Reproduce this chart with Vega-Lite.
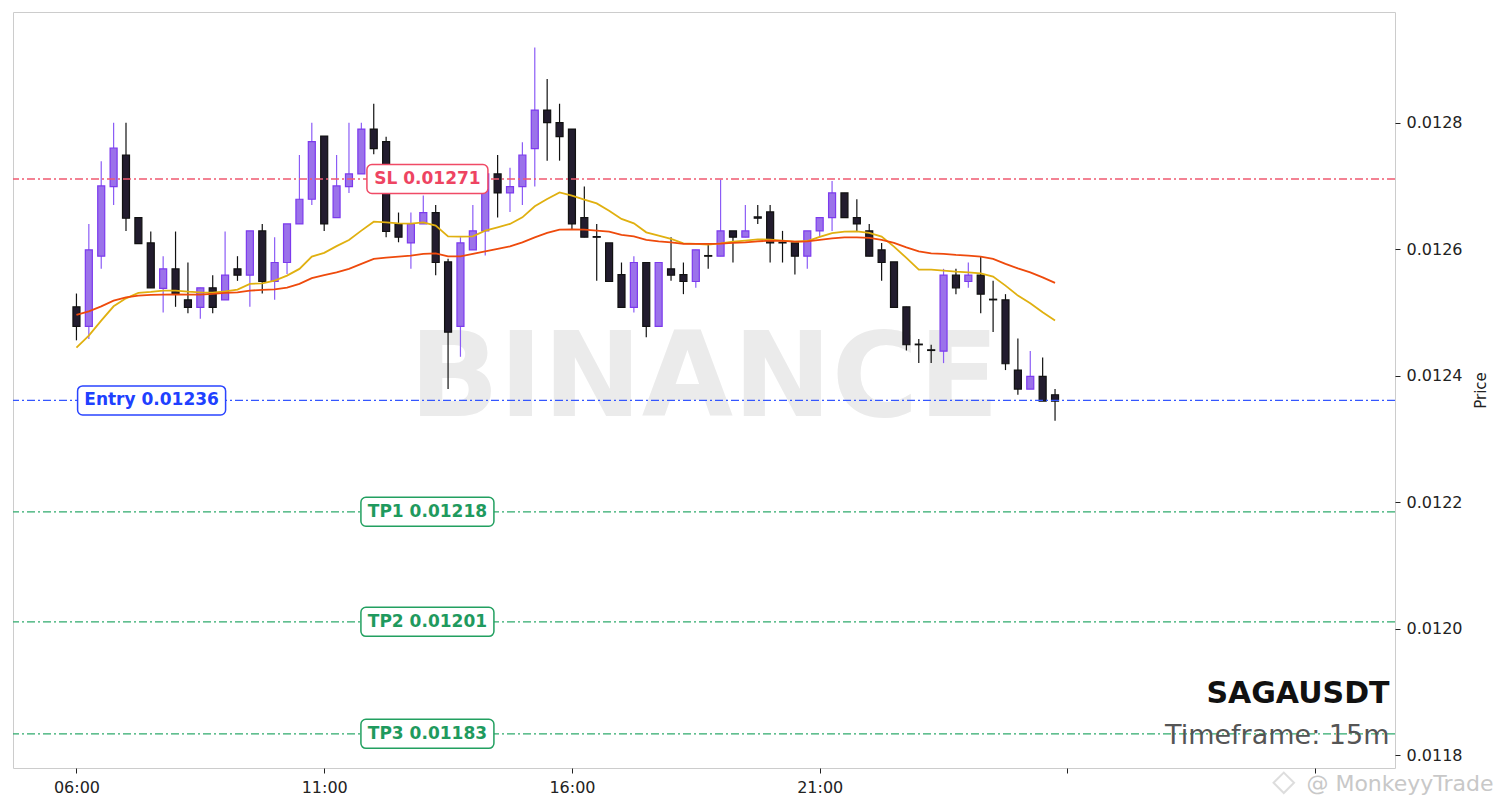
{
  "$schema": "https://vega.github.io/schema/vega-lite/v6.json",
  "width": 1382,
  "height": 756,
  "padding": {"left": 12, "top": 12, "right": 0, "bottom": 0},
  "autosize": {"type": "pad"},
  "background": "#ffffff",
  "config": {
    "view": {"stroke": "#cccccc", "strokeWidth": 1},
    "font": "DejaVu Sans",
    "scale": {"continuousPadding": 0},
    "axis": {"labelFont": "DejaVu Sans", "titleFont": "DejaVu Sans", "gridColor": "#e5e5e5", "gridWidth": 1, "domain": false, "tickColor": "#222222", "tickSize": 5, "labelColor": "#222222", "labelFontSize": 16}
  },
  "datasets": {
    "candles": [
      {"t":"2024-05-01T06:00:00","o":0.012509,"h":0.012530,"l":0.012456,"c":0.012478,"f":0.0124445,"s":0.0124962},
      {"t":"2024-05-01T06:15:00","o":0.012478,"h":0.012640,"l":0.012458,"c":0.012599,"f":0.0124635,"s":0.0125019},
      {"t":"2024-05-01T06:30:00","o":0.012589,"h":0.012739,"l":0.012569,"c":0.012700,"f":0.0124872,"s":0.0125098},
      {"t":"2024-05-01T06:45:00","o":0.012699,"h":0.012800,"l":0.012670,"c":0.012760,"f":0.0125098,"s":0.0125188},
      {"t":"2024-05-01T07:00:00","o":0.012749,"h":0.012800,"l":0.012629,"c":0.012649,"f":0.0125224,"s":0.0125240},
      {"t":"2024-05-01T07:15:00","o":0.012650,"h":0.012650,"l":0.012609,"c":0.012609,"f":0.0125310,"s":0.0125267},
      {"t":"2024-05-01T07:30:00","o":0.012610,"h":0.012628,"l":0.012539,"c":0.012539,"f":0.0125325,"s":0.0125278},
      {"t":"2024-05-01T07:45:00","o":0.012538,"h":0.012589,"l":0.012500,"c":0.012569,"f":0.0125346,"s":0.0125283},
      {"t":"2024-05-01T08:00:00","o":0.012569,"h":0.012628,"l":0.012509,"c":0.012530,"f":0.0125346,"s":0.0125288},
      {"t":"2024-05-01T08:15:00","o":0.012520,"h":0.012579,"l":0.012499,"c":0.012508,"f":0.0125330,"s":0.0125283},
      {"t":"2024-05-01T08:30:00","o":0.012508,"h":0.012539,"l":0.012490,"c":0.012539,"f":0.0125319,"s":0.0125283},
      {"t":"2024-05-01T08:45:00","o":0.012539,"h":0.012559,"l":0.012499,"c":0.012508,"f":0.0125314,"s":0.0125294},
      {"t":"2024-05-01T09:00:00","o":0.012520,"h":0.012628,"l":0.012520,"c":0.012559,"f":0.0125335,"s":0.0125310},
      {"t":"2024-05-01T09:15:00","o":0.012569,"h":0.012589,"l":0.012550,"c":0.012559,"f":0.0125362,"s":0.0125319},
      {"t":"2024-05-01T09:30:00","o":0.012559,"h":0.012629,"l":0.012509,"c":0.012629,"f":0.0125452,"s":0.0125346},
      {"t":"2024-05-01T09:45:00","o":0.012629,"h":0.012640,"l":0.012530,"c":0.012549,"f":0.0125461,"s":0.0125357},
      {"t":"2024-05-01T10:00:00","o":0.012549,"h":0.012619,"l":0.012520,"c":0.012579,"f":0.0125504,"s":0.0125367},
      {"t":"2024-05-01T10:15:00","o":0.012579,"h":0.012640,"l":0.012561,"c":0.012640,"f":0.0125583,"s":0.0125393},
      {"t":"2024-05-01T10:30:00","o":0.012640,"h":0.012749,"l":0.012640,"c":0.012679,"f":0.0125689,"s":0.0125452},
      {"t":"2024-05-01T10:45:00","o":0.012679,"h":0.012800,"l":0.012670,"c":0.012770,"f":0.0125883,"s":0.0125543},
      {"t":"2024-05-01T11:00:00","o":0.012779,"h":0.012779,"l":0.012629,"c":0.012640,"f":0.0125943,"s":0.0125591},
      {"t":"2024-05-01T11:15:00","o":0.012650,"h":0.012749,"l":0.012650,"c":0.012700,"f":0.0126049,"s":0.0125635},
      {"t":"2024-05-01T11:30:00","o":0.012699,"h":0.012800,"l":0.012689,"c":0.012719,"f":0.0126147,"s":0.0125689},
      {"t":"2024-05-01T11:45:00","o":0.012719,"h":0.012800,"l":0.012719,"c":0.012790,"f":0.0126294,"s":0.0125768},
      {"t":"2024-05-01T12:00:00","o":0.012790,"h":0.012830,"l":0.012750,"c":0.012759,"f":0.0126436,"s":0.0125847},
      {"t":"2024-05-01T12:15:00","o":0.012770,"h":0.012778,"l":0.012619,"c":0.012628,"f":0.0126425,"s":0.0125867},
      {"t":"2024-05-01T12:30:00","o":0.012640,"h":0.012658,"l":0.012611,"c":0.012619,"f":0.0126409,"s":0.0125883},
      {"t":"2024-05-01T12:45:00","o":0.012610,"h":0.012658,"l":0.012569,"c":0.012640,"f":0.0126404,"s":0.0125899},
      {"t":"2024-05-01T13:00:00","o":0.012640,"h":0.012685,"l":0.012640,"c":0.012658,"f":0.0126425,"s":0.0125926},
      {"t":"2024-05-01T13:15:00","o":0.012658,"h":0.012670,"l":0.012559,"c":0.012579,"f":0.0126373,"s":0.0125935},
      {"t":"2024-05-01T13:30:00","o":0.012580,"h":0.012585,"l":0.012379,"c":0.012469,"f":0.0126204,"s":0.0125888},
      {"t":"2024-05-01T13:45:00","o":0.012478,"h":0.012619,"l":0.012430,"c":0.012610,"f":0.0126199,"s":0.0125888},
      {"t":"2024-05-01T14:00:00","o":0.012599,"h":0.012670,"l":0.012599,"c":0.012629,"f":0.0126204,"s":0.0125926},
      {"t":"2024-05-01T14:15:00","o":0.012629,"h":0.012719,"l":0.012590,"c":0.012719,"f":0.0126294,"s":0.0125967},
      {"t":"2024-05-01T14:30:00","o":0.012719,"h":0.012749,"l":0.012650,"c":0.012689,"f":0.0126346,"s":0.0126005},
      {"t":"2024-05-01T14:45:00","o":0.012689,"h":0.012729,"l":0.012659,"c":0.012699,"f":0.0126400,"s":0.0126046},
      {"t":"2024-05-01T15:00:00","o":0.012699,"h":0.012769,"l":0.012670,"c":0.012749,"f":0.0126504,"s":0.0126109},
      {"t":"2024-05-01T15:15:00","o":0.012759,"h":0.012919,"l":0.012699,"c":0.012820,"f":0.0126678,"s":0.0126188},
      {"t":"2024-05-01T15:30:00","o":0.012820,"h":0.012869,"l":0.012740,"c":0.012800,"f":0.0126795,"s":0.0126257},
      {"t":"2024-05-01T15:45:00","o":0.012800,"h":0.012830,"l":0.012740,"c":0.012778,"f":0.0126899,"s":0.0126310},
      {"t":"2024-05-01T16:00:00","o":0.012790,"h":0.012790,"l":0.012632,"c":0.012640,"f":0.0126847,"s":0.0126313},
      {"t":"2024-05-01T16:15:00","o":0.012650,"h":0.012699,"l":0.012619,"c":0.012619,"f":0.0126784,"s":0.0126310},
      {"t":"2024-05-01T16:30:00","o":0.012620,"h":0.012640,"l":0.012550,"c":0.012619,"f":0.0126725,"s":0.0126294},
      {"t":"2024-05-01T16:45:00","o":0.012610,"h":0.012610,"l":0.012549,"c":0.012549,"f":0.0126610,"s":0.0126278},
      {"t":"2024-05-01T17:00:00","o":0.012560,"h":0.012579,"l":0.012508,"c":0.012508,"f":0.0126479,"s":0.0126226},
      {"t":"2024-05-01T17:15:00","o":0.012508,"h":0.012589,"l":0.012500,"c":0.012579,"f":0.0126409,"s":0.0126204},
      {"t":"2024-05-01T17:30:00","o":0.012579,"h":0.012579,"l":0.012461,"c":0.012478,"f":0.0126267,"s":0.0126147},
      {"t":"2024-05-01T17:45:00","o":0.012478,"h":0.012579,"l":0.012478,"c":0.012579,"f":0.0126215,"s":0.0126125},
      {"t":"2024-05-01T18:00:00","o":0.012569,"h":0.012619,"l":0.012550,"c":0.012559,"f":0.0126163,"s":0.0126109},
      {"t":"2024-05-01T18:15:00","o":0.012560,"h":0.012579,"l":0.012529,"c":0.012549,"f":0.0126093,"s":0.0126084},
      {"t":"2024-05-01T18:30:00","o":0.012549,"h":0.012599,"l":0.012539,"c":0.012599,"f":0.0126084,"s":0.0126084},
      {"t":"2024-05-01T18:45:00","o":0.012590,"h":0.012610,"l":0.012569,"c":0.012589,"f":0.0126073,"s":0.0126084},
      {"t":"2024-05-01T19:00:00","o":0.012589,"h":0.012710,"l":0.012589,"c":0.012629,"f":0.0126093,"s":0.0126088},
      {"t":"2024-05-01T19:15:00","o":0.012629,"h":0.012629,"l":0.012579,"c":0.012619,"f":0.0126120,"s":0.0126100},
      {"t":"2024-05-01T19:30:00","o":0.012619,"h":0.012670,"l":0.012619,"c":0.012629,"f":0.0126136,"s":0.0126109},
      {"t":"2024-05-01T19:45:00","o":0.012651,"h":0.012670,"l":0.012640,"c":0.012649,"f":0.0126156,"s":0.0126125},
      {"t":"2024-05-01T20:00:00","o":0.012659,"h":0.012670,"l":0.012579,"c":0.012610,"f":0.0126152,"s":0.0126136},
      {"t":"2024-05-01T20:15:00","o":0.012611,"h":0.012629,"l":0.012579,"c":0.012610,"f":0.0126136,"s":0.0126131},
      {"t":"2024-05-01T20:30:00","o":0.012610,"h":0.012610,"l":0.012560,"c":0.012589,"f":0.0126120,"s":0.0126120},
      {"t":"2024-05-01T20:45:00","o":0.012589,"h":0.012629,"l":0.012569,"c":0.012629,"f":0.0126130,"s":0.0126125},
      {"t":"2024-05-01T21:00:00","o":0.012629,"h":0.012650,"l":0.012619,"c":0.012650,"f":0.0126194,"s":0.0126148},
      {"t":"2024-05-01T21:15:00","o":0.012650,"h":0.012708,"l":0.012629,"c":0.012689,"f":0.0126254,"s":0.0126172},
      {"t":"2024-05-01T21:30:00","o":0.012689,"h":0.012689,"l":0.012650,"c":0.012650,"f":0.0126278,"s":0.0126188},
      {"t":"2024-05-01T21:45:00","o":0.012650,"h":0.012679,"l":0.012629,"c":0.012640,"f":0.0126283,"s":0.0126188},
      {"t":"2024-05-01T22:00:00","o":0.012629,"h":0.012640,"l":0.012589,"c":0.012589,"f":0.0126257,"s":0.0126179},
      {"t":"2024-05-01T22:15:00","o":0.012599,"h":0.012610,"l":0.012550,"c":0.012579,"f":0.0126199,"s":0.0126147},
      {"t":"2024-05-01T22:30:00","o":0.012580,"h":0.012580,"l":0.012508,"c":0.012508,"f":0.0126041,"s":0.0126100},
      {"t":"2024-05-01T22:45:00","o":0.012509,"h":0.012509,"l":0.012440,"c":0.012449,"f":0.0125863,"s":0.0126030},
      {"t":"2024-05-01T23:00:00","o":0.012450,"h":0.012458,"l":0.012420,"c":0.012449,"f":0.0125678,"s":0.0125967},
      {"t":"2024-05-01T23:15:00","o":0.012441,"h":0.012449,"l":0.012420,"c":0.012440,"f":0.0125678,"s":0.0125935},
      {"t":"2024-05-01T23:30:00","o":0.012439,"h":0.012569,"l":0.012420,"c":0.012559,"f":0.0125662,"s":0.0125926},
      {"t":"2024-05-01T23:45:00","o":0.012559,"h":0.012569,"l":0.012529,"c":0.012539,"f":0.0125646,"s":0.0125910},
      {"t":"2024-05-02T00:00:00","o":0.012549,"h":0.012579,"l":0.012539,"c":0.012559,"f":0.0125635,"s":0.0125899},
      {"t":"2024-05-02T00:15:00","o":0.012559,"h":0.012589,"l":0.012499,"c":0.012529,"f":0.0125619,"s":0.0125883},
      {"t":"2024-05-02T00:30:00","o":0.012521,"h":0.012550,"l":0.012469,"c":0.012520,"f":0.0125567,"s":0.0125847},
      {"t":"2024-05-02T00:45:00","o":0.012520,"h":0.012529,"l":0.012409,"c":0.012419,"f":0.0125425,"s":0.0125768},
      {"t":"2024-05-02T01:00:00","o":0.012409,"h":0.012459,"l":0.012370,"c":0.012379,"f":0.0125267,"s":0.0125698},
      {"t":"2024-05-02T01:15:00","o":0.012379,"h":0.012439,"l":0.012379,"c":0.012399,"f":0.0125145,"s":0.0125635},
      {"t":"2024-05-02T01:30:00","o":0.012399,"h":0.012429,"l":0.012360,"c":0.012360,"f":0.0125003,"s":0.0125556},
      {"t":"2024-05-02T01:45:00","o":0.012370,"h":0.012379,"l":0.012329,"c":0.012360,"f":0.0124872,"s":0.0125468}
    ],
    "levels": [
      {"name": "SL", "price": 0.012711, "label": "SL 0.01271"},
      {"name": "Entry", "price": 0.012361, "label": "Entry 0.01236"},
      {"name": "TP1", "price": 0.012185, "label": "TP1 0.01218"},
      {"name": "TP2", "price": 0.012011, "label": "TP2 0.01201"},
      {"name": "TP3", "price": 0.011834, "label": "TP3 0.01183"}
    ]
  },
  "encoding": {
    "y": {
      "type": "quantitative",
      "scale": {"domain": [0.01178, 0.012975], "nice": false, "zero": false},
      "axis": {
        "orient": "right",
        "title": "Price",
        "titleAngle": 270,
        "titleBaseline": "top",
        "titleFontSize": 15,
        "titleFontWeight": "normal",
        "titleColor": "#222222",
        "titlePadding": 12,
        "values": [0.0118, 0.012, 0.0122, 0.0124, 0.0126, 0.0128],
        "format": ".4f",
        "labelPadding": 6
      }
    }
  },
  "layer": [
    {
      "data": {"values": [{"text": "BINANCE"}]},
      "mark": {"type": "text", "fontSize": 118, "fontWeight": "bold", "color": "#ebebeb", "align": "center", "baseline": "middle", "font": "DejaVu Sans"},
      "encoding": {
        "x": {
          "datum": {"year": 2024, "month": 5, "date": 1, "hours": 18, "minutes": 40}, "type": "temporal",
          "scale": {"domain": [{"year": 2024, "month": 5, "date": 1, "hours": 4, "minutes": 43, "seconds": 10}, {"year": 2024, "month": 5, "date": 2, "hours": 8, "minutes": 36, "seconds": 40}], "padding": 0},
          "axis": {
            "title": null,
            "values": [
              {"year": 2024, "month": 5, "date": 1, "hours": 6},
              {"year": 2024, "month": 5, "date": 1, "hours": 11},
              {"year": 2024, "month": 5, "date": 1, "hours": 16},
              {"year": 2024, "month": 5, "date": 1, "hours": 21},
              {"year": 2024, "month": 5, "date": 2, "hours": 2},
              {"year": 2024, "month": 5, "date": 2, "hours": 7}
            ],
            "labelExpr": "datum.value > datetime(2024, 4, 1, 22) ? '' : timeFormat(datum.value, '%H:%M')",
            "labelPadding": 6,
            "labelFlush": false,
            "labelOverlap": false
          }
        },
        "y": {"datum": 0.012392, "type": "quantitative"},
        "text": {"field": "text"}
      }
    },
    {
      "data": {"name": "candles"},
      "mark": {"type": "rule", "strokeWidth": 1.2},
      "encoding": {
        "x": {"field": "t", "type": "temporal"},
        "y": {"field": "l", "type": "quantitative"},
        "y2": {"field": "h"},
        "color": {"condition": {"test": "datum.c > datum.o", "value": "#8b5cf6"}, "value": "#111111"}
      }
    },
    {
      "data": {"name": "candles"},
      "mark": {"type": "bar", "width": 7, "strokeWidth": 1.2},
      "encoding": {
        "x": {"field": "t", "type": "temporal", "scale": {"padding": 0}},
        "y": {"field": "o", "type": "quantitative"},
        "y2": {"field": "c"},
        "fill": {"condition": {"test": "datum.c > datum.o", "value": "#9b72ea"}, "value": "#221c2e"},
        "stroke": {"condition": {"test": "datum.c > datum.o", "value": "#7c3aed"}, "value": "#111111"}
      }
    },
    {
      "data": {"name": "candles"},
      "mark": {"type": "line", "color": "#e0b010", "strokeWidth": 1.8},
      "encoding": {"x": {"field": "t", "type": "temporal"}, "y": {"field": "f", "type": "quantitative"}}
    },
    {
      "data": {"name": "candles"},
      "mark": {"type": "line", "color": "#ee4a0c", "strokeWidth": 1.8},
      "encoding": {"x": {"field": "t", "type": "temporal"}, "y": {"field": "s", "type": "quantitative"}}
    },
    {
      "data": {"name": "levels"},
      "mark": {"type": "rule", "strokeWidth": 1.3, "strokeDash": [8, 3, 2, 3]},
      "encoding": {
        "y": {"field": "price", "type": "quantitative"},
        "color": {"field": "name", "type": "nominal", "legend": null, "scale": {"domain": ["SL", "Entry", "TP1", "TP2", "TP3"], "range": ["#f05a70", "#3456ff", "#2eaa6c", "#2eaa6c", "#2eaa6c"]}}
      }
    },
    {
      "data": {"name": "levels"},
      "transform": [{"filter": "datum.name === 'Entry'"}],
      "mark": {"type": "rect", "width": 148, "height": 29, "cornerRadius": 5, "fill": "#ffffff", "stroke": "#2a44ff", "strokeWidth": 1.5},
      "encoding": {
        "x": {"datum": {"year": 2024, "month": 5, "date": 1, "hours": 7, "minutes": 31}, "type": "temporal"},
        "y": {"field": "price", "type": "quantitative"}
      }
    },
    {
      "data": {"name": "levels"},
      "transform": [{"filter": "datum.name === 'SL'"}],
      "mark": {"type": "rect", "width": 121, "height": 29, "cornerRadius": 5, "fill": "#ffffff", "stroke": "#f04a66", "strokeWidth": 1.5},
      "encoding": {
        "x": {"datum": {"year": 2024, "month": 5, "date": 1, "hours": 13, "minutes": 5}, "type": "temporal"},
        "y": {"field": "price", "type": "quantitative"}
      }
    },
    {
      "data": {"name": "levels"},
      "transform": [{"filter": "indexof(['TP1','TP2','TP3'], datum.name) >= 0"}],
      "mark": {"type": "rect", "width": 133, "height": 29, "cornerRadius": 5, "fill": "#ffffff", "stroke": "#22a060", "strokeWidth": 1.5},
      "encoding": {
        "x": {"datum": {"year": 2024, "month": 5, "date": 1, "hours": 13, "minutes": 5}, "type": "temporal"},
        "y": {"field": "price", "type": "quantitative"}
      }
    },
    {
      "data": {"name": "levels"},
      "transform": [{"filter": "datum.name === 'Entry'"}],
      "mark": {"type": "text", "fontSize": 17, "fontWeight": "bold", "align": "center", "baseline": "middle", "color": "#2040ff", "font": "DejaVu Sans"},
      "encoding": {
        "x": {"datum": {"year": 2024, "month": 5, "date": 1, "hours": 7, "minutes": 31}, "type": "temporal"},
        "y": {"field": "price", "type": "quantitative"},
        "text": {"field": "label"}
      }
    },
    {
      "data": {"name": "levels"},
      "transform": [{"filter": "datum.name === 'SL'"}],
      "mark": {"type": "text", "fontSize": 17, "fontWeight": "bold", "align": "center", "baseline": "middle", "color": "#ee4462", "font": "DejaVu Sans"},
      "encoding": {
        "x": {"datum": {"year": 2024, "month": 5, "date": 1, "hours": 13, "minutes": 5}, "type": "temporal"},
        "y": {"field": "price", "type": "quantitative"},
        "text": {"field": "label"}
      }
    },
    {
      "data": {"name": "levels"},
      "transform": [{"filter": "indexof(['TP1','TP2','TP3'], datum.name) >= 0"}],
      "mark": {"type": "text", "fontSize": 17, "fontWeight": "bold", "align": "center", "baseline": "middle", "color": "#1f9a5e", "font": "DejaVu Sans"},
      "encoding": {
        "x": {"datum": {"year": 2024, "month": 5, "date": 1, "hours": 13, "minutes": 5}, "type": "temporal"},
        "y": {"field": "price", "type": "quantitative"},
        "text": {"field": "label"}
      }
    },
    {
      "data": {"values": [{"text": "SAGAUSDT"}]},
      "mark": {"type": "text", "fontSize": 30, "fontWeight": "bold", "color": "#111111", "align": "right", "baseline": "alphabetic", "font": "DejaVu Sans"},
      "encoding": {
        "x": {"datum": {"year": 2024, "month": 5, "date": 2, "hours": 8, "minutes": 30}, "type": "temporal"},
        "y": {"datum": 0.011882, "type": "quantitative"},
        "text": {"field": "text"}
      }
    },
    {
      "data": {"values": [{"text": "Timeframe: 15m"}]},
      "mark": {"type": "text", "fontSize": 27, "fontWeight": "normal", "color": "#555555", "align": "right", "baseline": "alphabetic", "font": "DejaVu Sans"},
      "encoding": {
        "x": {"datum": {"year": 2024, "month": 5, "date": 2, "hours": 8, "minutes": 30}, "type": "temporal"},
        "y": {"datum": 0.0118174, "type": "quantitative"},
        "text": {"field": "text"}
      }
    },
    {
      "data": {"values": [{"text": "@ MonkeyyTrade"}]},
      "mark": {"type": "text", "fontSize": 22, "color": "#c8c8c8", "align": "right", "baseline": "alphabetic", "font": "DejaVu Sans"},
      "encoding": {
        "x": {"datum": {"year": 2024, "month": 5, "date": 2, "hours": 10, "minutes": 36}, "type": "temporal"},
        "y": {"datum": 0.0117431, "type": "quantitative"},
        "text": {"field": "text"}
      }
    },
    {
      "data": {"values": [{"text": "logo"}]},
      "mark": {"type": "point", "shape": "diamond", "size": 420, "filled": false, "stroke": "#d0d0d0", "strokeWidth": 2},
      "encoding": {
        "x": {"datum": {"year": 2024, "month": 5, "date": 2, "hours": 6, "minutes": 22}, "type": "temporal"},
        "y": {"datum": 0.0117566, "type": "quantitative"}
      }
    }
  ]
}
